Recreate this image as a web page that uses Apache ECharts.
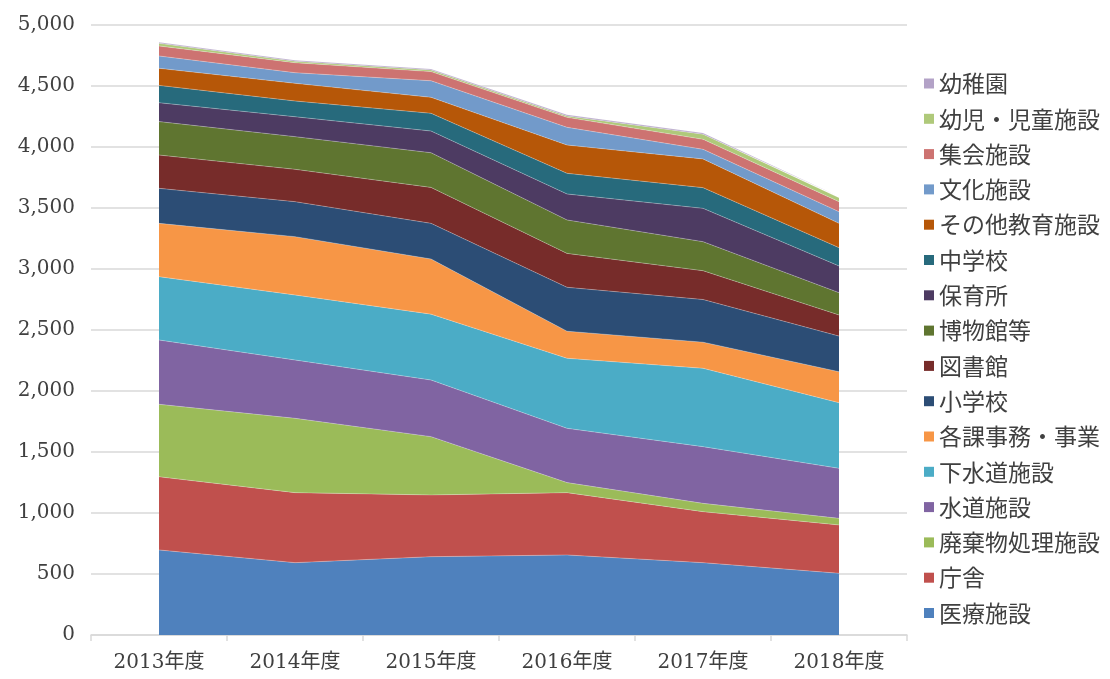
<!DOCTYPE html>
<html>
<head>
<meta charset="utf-8">
<script src="https://cdn.jsdelivr.net/npm/echarts@6/dist/echarts.min.js"></script>
<style>
  html, body { margin: 0; padding: 0; background: #fff; }
  #chart { width: 1110px; height: 679px; }
</style>
</head>
<body>
<div id="chart"></div>
<script>
// 年度
const years = ["2013年度", "2014年度", "2015年度", "2016年度", "2017年度", "2018年度"];

// series, bottom to top of the stack
const iryo      = [697, 593, 642, 656, 593, 506];   // 医療施設
const chosha    = [600, 574, 506, 511, 418, 396];   // 庁舎
const haikibutsu= [594, 609, 478, 82, 68, 54];      // 廃棄物処理施設
const suido     = [527, 478, 464, 445, 465, 410];   // 水道施設
const gesuido   = [519, 533, 540, 574, 642, 538];   // 下水道施設
const kakuka    = [437, 478, 452, 222, 214, 254];   // 各課事務・事業
const shogakko  = [287, 287, 292, 360, 350, 292];   // 小学校
const toshokan  = [273, 265, 295, 278, 236, 173];   // 図書館
const hakubutsu = [274, 268, 284, 274, 238, 183];   // 博物館等
const hoikusho  = [155, 163, 178, 213, 273, 219];   // 保育所
const chugakko  = [142, 129, 145, 169, 170, 150];   // 中学校
const sonota    = [140, 145, 131, 232, 235, 199];   // その他教育施設
const bunka     = [101, 87, 136, 145, 79, 96];      // 文化施設
const shukai    = [82, 82, 75, 82, 82, 82];         // 集会施設
const yoji      = [22, 12, 14, 12, 42, 33];         // 幼児・児童施設
const yochien   = [8, 9, 8, 10, 10, 10];            // 幼稚園

const names = ["医療施設", "庁舎", "廃棄物処理施設", "水道施設", "下水道施設", "各課事務・事業",
  "小学校", "図書館", "博物館等", "保育所", "中学校", "その他教育施設", "文化施設", "集会施設",
  "幼児・児童施設", "幼稚園"];
const values = [iryo, chosha, haikibutsu, suido, gesuido, kakuka, shogakko, toshokan, hakubutsu,
  hoikusho, chugakko, sonota, bunka, shukai, yoji, yochien];
const colors = ["#4F81BD", "#C0504D", "#9BBB59", "#8064A2", "#4BACC6", "#F79646",
  "#2C4D75", "#772C2A", "#5F7530", "#4D3B62", "#276A7C", "#B65708",
  "#729ACA", "#CD7371", "#AFC97A", "#B3A2C7"];

const txtFont = "'DejaVu Serif', 'Noto Sans CJK JP', serif";

let chart = echarts.init(document.getElementById('chart'));
let series = names.map((n, i) => ({
  name: n,
  type: 'line',
  stack: 'total',
  data: values[i],
  symbol: 'none',
  lineStyle: { width: 0.6, color: 'rgba(255,255,255,0.45)' },
  areaStyle: { color: colors[i], opacity: 1 },
  itemStyle: { color: colors[i] },
  emphasis: { disabled: true }
}));

let options = {
  animation: false,
  color: colors,
  grid: { left: 91, right: 203, top: 25, bottom: 44 },
  legend: {
    orient: 'vertical',
    left: 919,
    top: 67,
    data: names.slice().reverse(),
    icon: 'rect',
    itemWidth: 10,
    itemHeight: 10,
    itemGap: 12.3,
    textStyle: { fontFamily: "'Noto Sans CJK JP', sans-serif", fontSize: 23, lineHeight: 23, color: '#404040' }
  },
  xAxis: {
    type: 'category',
    data: years,
    boundaryGap: true,
    axisLine: { lineStyle: { color: '#d9d9d9', width: 1.5 } },
    axisTick: { show: true, length: 6, lineStyle: { color: '#d9d9d9', width: 1.5 } },
    axisLabel: { fontFamily: txtFont, fontSize: 20, color: '#404040', margin: 18 }
  },
  yAxis: {
    type: 'value',
    min: 0,
    max: 5000,
    interval: 500,
    axisLine: { show: false },
    axisTick: { show: false },
    splitLine: { lineStyle: { color: '#d9d9d9', width: 1.5 } },
    axisLabel: {
      fontFamily: txtFont, fontSize: 20, color: '#404040', margin: 16,
      formatter: v => v.toLocaleString('en-US')
    }
  },
  series
};
chart.setOption(options);
</script>
</body>
</html>
